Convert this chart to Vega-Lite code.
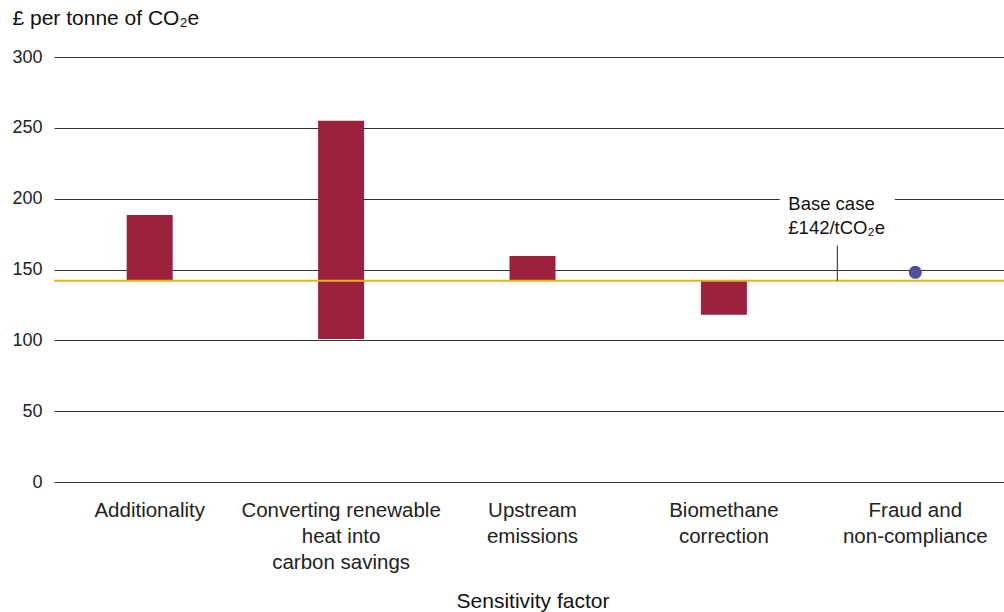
{
  "$schema": "https://vega.github.io/schema/vega-lite/v6.json",
  "width": 950,
  "height": 425,
  "autosize": {"type": "none"},
  "padding": {"left": 54, "top": 57, "right": 0, "bottom": 130},
  "config": {
    "view": {"stroke": null},
    "font": "Liberation Sans",
    "axis": {"labelColor": "#222222", "titleColor": "#111111", "titleFontWeight": "normal"}
  },
  "datasets": {
    "ranges": [
      {"factor": "Additionality", "low": 142, "high": 188.5},
      {"factor": "Converting renewable heat into carbon savings", "low": 101, "high": 255},
      {"factor": "Upstream emissions", "low": 142, "high": 159.5},
      {"factor": "Biomethane correction", "low": 118, "high": 142}
    ],
    "points": [
      {"factor": "Fraud and non-compliance", "value": 148}
    ],
    "base": [
      {"factor": "Fraud and non-compliance", "base": 142, "top": 167, "maskLow": 196, "maskHigh": 204, "label": "Base case\n£142/tCO₂e"}
    ]
  },
  "layer": [
    {
      "data": {"name": "ranges"},
      "mark": {"type": "bar", "width": 46, "color": "#9b213d"},
      "encoding": {
        "x": {
          "field": "factor", "type": "nominal",
          "sort": ["Additionality", "Converting renewable heat into carbon savings", "Upstream emissions", "Biomethane correction", "Fraud and non-compliance"],
          "scale": {"domain": ["Additionality", "Converting renewable heat into carbon savings", "Upstream emissions", "Biomethane correction", "Fraud and non-compliance"], "range": [0, 957], "paddingInner": 0, "paddingOuter": 0},
          "axis": {
            "title": "Sensitivity factor",
            "titleFontSize": 21,
            "titlePadding": 18,
            "labelAngle": 0,
            "labelFontSize": 20.5,
            "labelLineHeight": 26,
            "labelPadding": 18,
            "labelLimit": 0,
            "domain": false,
            "ticks": false,
            "grid": false,
            "labelExpr": "datum.value == 'Converting renewable heat into carbon savings' ? ['Converting renewable', 'heat into', 'carbon savings'] : datum.value == 'Upstream emissions' ? ['Upstream', 'emissions'] : datum.value == 'Biomethane correction' ? ['Biomethane', 'correction'] : datum.value == 'Fraud and non-compliance' ? ['Fraud and', 'non-compliance'] : datum.value"
          }
        },
        "y": {
          "field": "low", "type": "quantitative",
          "scale": {"domain": [0, 300], "nice": false},
          "axis": {
            "values": [0, 50, 100, 150, 200, 250, 300],
            "title": "£ per tonne of CO₂e",
            "titleAngle": 0,
            "titleAlign": "left",
            "titleBaseline": "middle",
            "titleX": -42,
            "titleY": -39,
            "titleFontSize": 21,
            "labelFontSize": 18,
            "labelPadding": 12,
            "domain": false,
            "ticks": false,
            "grid": true,
            "gridColor": "#333333",
            "gridWidth": 1
          }
        },
        "y2": {"field": "high"}
      }
    },
    {
      "data": {"name": "base"},
      "mark": {"type": "bar", "width": 115, "xOffset": -78, "color": "#ffffff"},
      "encoding": {
        "x": {"field": "factor", "type": "nominal"},
        "y": {"field": "maskLow", "type": "quantitative"},
        "y2": {"field": "maskHigh"}
      }
    },
    {
      "data": {"name": "base"},
      "mark": {"type": "rule", "color": "#e3b510", "strokeWidth": 2},
      "encoding": {
        "y": {"field": "base", "type": "quantitative"}
      }
    },
    {
      "data": {"name": "base"},
      "mark": {"type": "rule", "color": "#222222", "strokeWidth": 1, "xOffset": -78},
      "encoding": {
        "x": {"field": "factor", "type": "nominal"},
        "y": {"field": "base", "type": "quantitative"},
        "y2": {"field": "top"}
      }
    },
    {
      "data": {"name": "base"},
      "mark": {"type": "text", "align": "left", "baseline": "top", "dx": -127, "dy": -86, "fontSize": 18.5, "lineBreak": "\n", "lineHeight": 24, "color": "#111111", "font": "Liberation Sans"},
      "encoding": {
        "x": {"field": "factor", "type": "nominal"},
        "y": {"field": "base", "type": "quantitative"},
        "text": {"field": "label"}
      }
    },
    {
      "data": {"name": "points"},
      "mark": {"type": "point", "filled": true, "opacity": 1, "size": 170, "color": "#51509b"},
      "encoding": {
        "x": {"field": "factor", "type": "nominal"},
        "y": {"field": "value", "type": "quantitative"}
      }
    }
  ]
}
